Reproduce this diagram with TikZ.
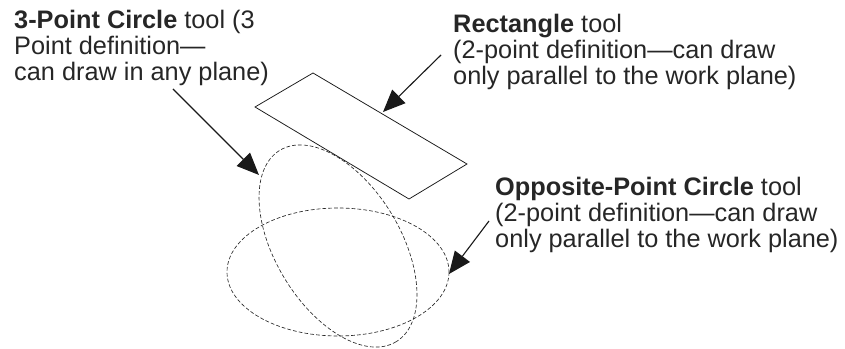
\documentclass[tikz,border=0pt]{standalone}
\usepackage{fontspec}
\setmainfont{Liberation Sans}
\usetikzlibrary{arrows.meta, positioning}
\tikzset{
    callout/.style={draw=black!90, line width=0.95pt, -{Triangle[length=19pt, width=16pt]}},
    toollabel/.style={align=left, inner sep=0pt, font=\fontsize{21.6}{22.2}\selectfont, text=black!85, anchor=north west},
    outline/.style={draw=black!90, line width=0.65pt},
    dashcurve/.style={draw=black!85, line width=0.55pt, dash pattern=on 3.2pt off 1.8pt}
}
\begin{document}
\begin{tikzpicture}[x=0.03cm, y=-0.03cm]
    \useasboundingbox (0,0) rectangle (845,349);

    % Piano di lavoro
    \draw[outline] (313,73) -- (255,107) -- (409,199) -- (467,164) -- cycle;

    % Cerchi tratteggiati
    \draw[dashcurve, rotate around={-58.7:(338,246)}] (338,246) ellipse [x radius=112, y radius=62.5];
    \draw[dashcurve] (338,272) ellipse [x radius=111, y radius=64];

    % Etichette
    \node[toollabel] (threepoint) at (14,10) {\textbf{3-Point Circle} tool (3\\Point definition---\\can draw in any plane)};
    \node[toollabel] (rectangle) at (453,14) {\textbf{Rectangle} tool\\(2-point definition---can draw\\only parallel to the work plane)};
    \node[toollabel] (opposite) at (495,176.5) {\textbf{Opposite-Point Circle} tool\\(2-point definition---can draw\\only parallel to the work plane)};

    % Estremi delle frecce
    \coordinate (threepointtail) at (173,89);
    \coordinate (threepointtip) at (259,175);
    \coordinate (rectangletail) at (441,55);
    \coordinate (rectangletip) at (383,112);
    \coordinate (oppositetail) at (489,221);
    \coordinate (oppositetip) at (449,274);

    % Frecce
    \draw[callout] (threepointtail) -- (threepointtip);
    \draw[callout] (rectangletail) -- (rectangletip);
    \draw[callout] (oppositetail) -- (oppositetip);
\end{tikzpicture}
\end{document}
